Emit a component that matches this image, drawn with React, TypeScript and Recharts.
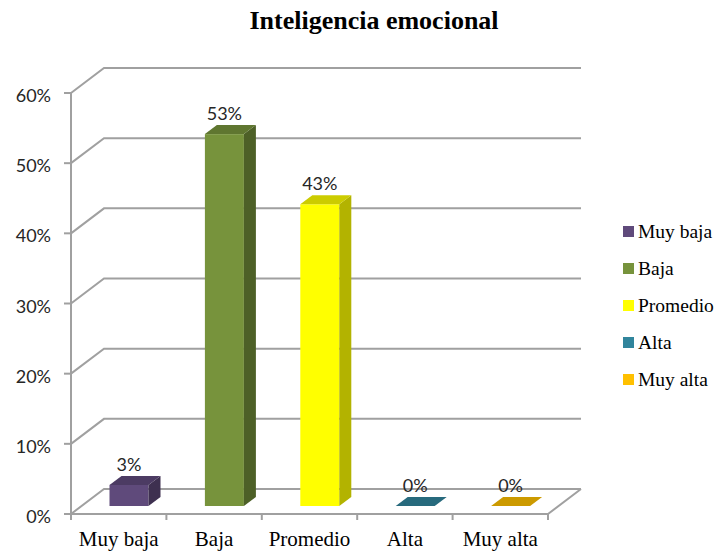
import React from 'react';
import { BarChart, Bar, XAxis, YAxis, CartesianGrid, Legend } from 'recharts';

const CATEGORIES = ['Muy baja', 'Baja', 'Promedio', 'Alta', 'Muy alta'];
const VALUES = [3, 53, 43, 0, 0];
const Y_TICKS = [0, 10, 20, 30, 40, 50, 60];

// face colours per category: front, top (darker), side (darkest)
const FRONT = ['#5F4A7B', '#77933C', '#FFFF00', '#31859C', '#FFC000'];
const TOP = ['#4C3B63', '#5F7630', '#CCCC00', '#276A7D', '#CC9A00'];
const SIDE = ['#3E3050', '#4D6027', '#B3B300', '#205766', '#A67D00'];

const data = CATEGORIES.map((name, i) => ({ name, value: VALUES[i] }));

const W = 724;
const H = 552;
const MARGIN = { top: 93, right: 176, bottom: 8, left: 11 };
const Y_AXIS_W = 60;
const X_AXIS_H = 30;
const PLOT_BOTTOM = H - MARGIN.bottom - X_AXIS_H;
const PLOT_W = W - MARGIN.left - Y_AXIS_W - MARGIN.right;
const BAND = PLOT_W / CATEGORIES.length;

// perspective of the floor / back wall and of the bars
const WALL_DX = 33;
const WALL_DY = -25;
const BAR_DX = 12;
const BAR_DY = -9;
const BAR_SHIFT_X = 10.5;
const BAR_SHIFT_Y = -8;

const AXIS_COLOR = '#A0A0A0';
const TEXT_COLOR = '#262626';
const SANS = 'Lato, "Open Sans", sans-serif';
const SERIF = '"Liberation Serif", "Times New Roman", serif';

const GridLine = (p: any) => {
    const { x1, y1, x2 } = p;
    let d = `M${x1},${y1} L${x1 + WALL_DX},${y1 + WALL_DY} L${x2 + WALL_DX},${y1 + WALL_DY}`;
    // floor: right edge
    if (Math.abs(y1 - PLOT_BOTTOM) < 1) d += ` M${x2},${y1} L${x2 + WALL_DX},${y1 + WALL_DY}`;
    return <path key={`grid-${y1}`} d={d} stroke={AXIS_COLOR} strokeWidth={2} fill="none" />;
};

const Bar3D = (props: any) => {
    const { x, y, width, height, payload } = props;
    const i = CATEGORIES.indexOf(payload.name);
    const fx = x + BAR_SHIFT_X;
    const fy = y + BAR_SHIFT_Y;
    const h = Math.max(height || 0, 0);
    const top = `${fx},${fy} ${fx + BAR_DX},${fy + BAR_DY} ${fx + width + BAR_DX},${fy + BAR_DY} ${fx + width},${fy}`;
    const side = `${fx + width},${fy} ${fx + width + BAR_DX},${fy + BAR_DY} ${fx + width + BAR_DX},${fy + h + BAR_DY} ${fx + width},${fy + h}`;
    return (
        <g>
            {h > 0 && <rect x={fx} y={fy} width={width} height={h} fill={FRONT[i]} />}
            {h > 0 && <polygon points={side} fill={SIDE[i]} />}
            <polygon points={top} fill={TOP[i]} />
            <text
                x={fx + width / 2}
                y={fy + BAR_DY - 5}
                textAnchor="middle"
                fontFamily={SANS}
                fontSize={18}
                fill={TEXT_COLOR}
            >
                {`${payload.value}%`}
            </text>
        </g>
    );
};

const XTick = (props: any) => {
    const { x, y, payload, index } = props;
    const last = index === CATEGORIES.length - 1;
    return (
        <g>
            <line x1={x - BAND / 2} y1={y} x2={x - BAND / 2} y2={y + 6} stroke={AXIS_COLOR} strokeWidth={2} />
            {last && <line x1={x + BAND / 2} y1={y} x2={x + BAND / 2} y2={y + 6} stroke={AXIS_COLOR} strokeWidth={2} />}
            <text x={x} y={y + 32} textAnchor="middle" fontFamily={SERIF} fontSize={21} fill="#000">
                {payload.value}
            </text>
        </g>
    );
};

const YTick = (props: any) => {
    const { x, y, payload } = props;
    return (
        <g>
            <line x1={x - 7} y1={y} x2={x} y2={y} stroke={AXIS_COLOR} strokeWidth={2} />
            <text x={x - 20} y={y + 9} textAnchor="end" fontFamily={SANS} fontSize={18} fill={TEXT_COLOR}>
                {`${payload.value}%`}
            </text>
        </g>
    );
};

const LegendList = () => (
    <div style={{ fontFamily: SERIF, fontSize: 19.5, color: '#000' }}>
        {CATEGORIES.map((c, i) => (
            <div key={c} style={{ height: 37, display: 'flex', alignItems: 'center', whiteSpace: 'nowrap' }}>
                <span style={{ width: 11, height: 11, background: FRONT[i], marginRight: 4, display: 'inline-block' }} />
                {c}
            </div>
        ))}
    </div>
);

export default function App() {
    return (
        <div style={{ position: 'absolute', left: 0, top: 0, width: W, height: H, background: '#fff' }}>
            <div
                style={{
                    position: 'absolute',
                    left: 374,
                    top: 8,
                    transform: 'translateX(-50%)',
                    fontFamily: SERIF,
                    fontWeight: 'bold',
                    fontSize: 26,
                    lineHeight: 1,
                    whiteSpace: 'nowrap',
                    color: '#000',
                }}
            >
                Inteligencia emocional
            </div>
            <BarChart width={W} height={H} data={data} margin={MARGIN} barSize={39}>
                <CartesianGrid vertical={false} horizontal={GridLine} />
                <XAxis
                    dataKey="name"
                    height={X_AXIS_H}
                    tickLine={false}
                    tickSize={0}
                    tickMargin={0}
                    axisLine={{ stroke: AXIS_COLOR, strokeWidth: 2 }}
                    tick={XTick}
                    interval={0}
                />
                <YAxis
                    width={Y_AXIS_W}
                    domain={[0, 60]}
                    ticks={Y_TICKS}
                    tickLine={false}
                    tickSize={0}
                    tickMargin={0}
                    axisLine={{ stroke: AXIS_COLOR, strokeWidth: 2 }}
                    tick={YTick}
                />
                <Legend
                    layout="vertical"
                    align="center"
                    verticalAlign="middle"
                    wrapperStyle={{ left: 623, top: 213, width: 110 }}
                    content={LegendList}
                />
                <Bar dataKey="value" shape={Bar3D} isAnimationActive={false} />
            </BarChart>
        </div>
    );
}
